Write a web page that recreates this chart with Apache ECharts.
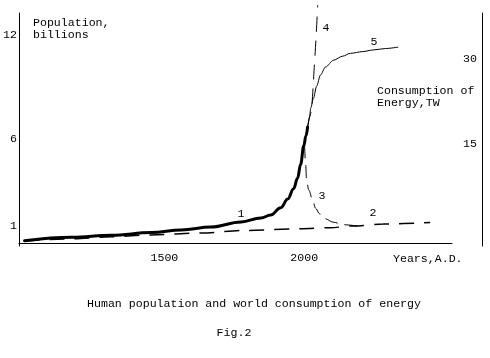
<!DOCTYPE html>
<html><head><meta charset="utf-8">
<script src="https://cdn.jsdelivr.net/npm/echarts@6/dist/echarts.min.js"></script>
<style>html,body{margin:0;padding:0;background:#fff}#c{width:490px;height:358px}</style>
</head><body><div id="c"></div>
<script>
// Curve 1: population (thick solid)
const years1 = [1000,1169,1311,1453,1560,1667,1774,1845,1880,1916,1941,1962,1976,1987,1998,2006,2012];
const pop1   = [0.15,0.35,0.46,0.62,0.77,0.94,1.23,1.46,1.63,2.05,2.55,3.15,3.75,4.55,5.60,6.20,6.70];
// Curve 2: long dashed
const years2 = [1000,1169,1311,1453,1631,1784,1987,2094,2176,2282,2450];
const pop2   = [0.13,0.26,0.38,0.48,0.59,0.74,0.84,0.90,1.00,1.11,1.20];
// Curve 3: dashed, falling back
const years3 = [2001,2005,2008,2016,2030,2040,2055,2072,2105,2140,2190];
const pop3   = [5.66,4.51,3.65,3.07,2.49,2.03,1.69,1.43,1.21,1.07,1.00];
// Curve 4: dashed, blow-up
const years4 = [2012,2019,2026,2035,2042,2048];
const pop4   = [6.70,7.28,7.68,9.98,11.83,13.73];
// Curve 5: energy consumption, TW (right axis)
const years5 = [2012,2019,2023,2033,2044,2058,2076,2105,2137,2165,2208,2247,2290,2336];
const energy5= [18.0,19.76,21.35,23.1,25.2,27.2,28.6,29.8,30.5,31.0,31.3,31.6,31.85,32.1];

const xTicks = [1500, 2000];
const leftTicks = [1, 6, 12];
const rightTicks = [15, 30];

const FONT = "11.6px 'Liberation Mono', 'DejaVu Sans Mono', monospace";
const zip = (a, b) => a.map((v, i) => [v, b[i]]);

const chart = echarts.init(document.getElementById('c'), null, {renderer: 'canvas'});
const txt = (t, x, y, align) => ({type: 'text', x: x, y: y, silent: true,
  style: {text: t, font: FONT, fill: '#000', textAlign: align || 'left', textVerticalAlign: 'middle'}});
const labelStyle = {color: '#000', fontFamily: "'Liberation Mono', 'DejaVu Sans Mono', monospace", fontSize: 11.6,
  formatter: v => String(v)};

chart.setOption({
  animation: false,
  backgroundColor: '#fff',
  grid: {left: 17, right: 38, top: 13, bottom: 112},
  xAxis: {
    type: 'value', min: 980, max: 2528,
    axisLine: {show: true, lineStyle: {color: '#000', width: 1}},
    axisTick: {show: false}, splitLine: {show: false},
    axisLabel: Object.assign({customValues: xTicks, margin: 6}, labelStyle)
  },
  yAxis: [{
    type: 'value', min: -0.156, max: 13.27, position: 'left',
    axisLine: {show: true, lineStyle: {color: '#000', width: 1}},
    axisTick: {show: false}, splitLine: {show: false},
    axisLabel: Object.assign({customValues: leftTicks, margin: 2}, labelStyle)
  }, {
    type: 'value', min: -3, max: 38.12, position: 'right', offset: 30,
    axisLine: {show: true, lineStyle: {color: '#000', width: 1}},
    axisTick: {show: false}, splitLine: {show: false},
    axisLabel: Object.assign({customValues: rightTicks, inside: true, margin: 5}, labelStyle)
  }],
  series: [
    {type: 'line', data: zip(years2, pop2), symbol: 'none', smooth: 0.3, smoothMonotone: 'x',
     lineStyle: {color: '#000', width: 1.5, type: [15, 10]}, z: 2},
    {type: 'line', data: zip(years1, pop1), symbol: 'none', smooth: 0.4, smoothMonotone: 'x',
     lineStyle: {color: '#000', width: 3, join: 'round', cap: 'round'}, z: 3},
    {type: 'line', data: zip(years3, pop3), symbol: 'none', smooth: 0.3, smoothMonotone: 'x',
     lineStyle: {color: '#000', width: 1, type: [13, 7]}, z: 2},
    {type: 'line', data: zip(years4, pop4), symbol: 'none', smooth: 0.2, clip: false,
     lineStyle: {color: '#000', width: 1, type: [15, 9]}, z: 2},
    {type: 'line', yAxisIndex: 1, data: zip(years5, energy5), symbol: 'none', smooth: 0.3, smoothMonotone: 'x',
     lineStyle: {color: '#000', width: 1}, z: 2}
  ],
  graphic: [
    txt('Population,', 33, 23),
    txt('billions', 33, 35),
    txt('Consumption of', 377, 91),
    txt('Energy,TW', 377, 103),
    txt('Years,A.D.', 393, 259),
    txt('Human population and world consumption of energy', 254, 304, 'center'),
    txt('Fig.2', 234, 333, 'center'),
    txt('1', 241, 214, 'center'),
    txt('2', 373, 213, 'center'),
    txt('3', 322, 196, 'center'),
    txt('4', 326, 28, 'center'),
    txt('5', 374, 42, 'center')
  ]
});
</script></body></html>
